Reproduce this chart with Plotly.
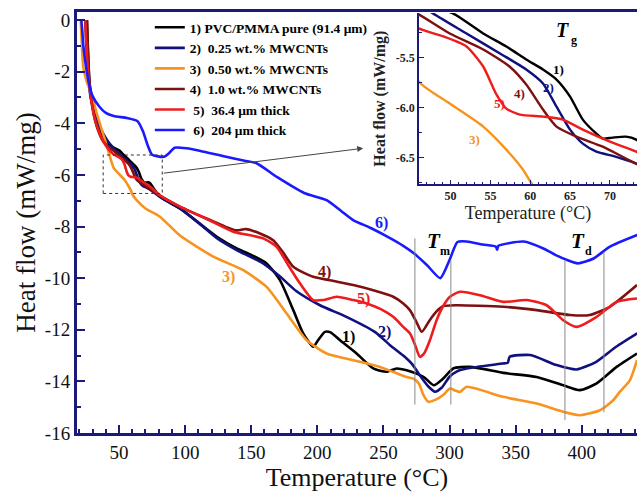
import plotly.graph_objects as go

# ---------------- data ----------------
T1 = [25.7, 26.2, 26.8, 27.5, 29, 31, 33, 36, 40, 45, 50.3, 54.1, 57, 59.5, 61.6, 63.3, 65, 66.6, 68.3, 69.1, 70.3, 72, 73.3,
      81, 96, 110, 124, 139, 150, 161.6, 171.7, 181.8, 189.3, 196.9, 200, 205.7, 210, 217, 229.7, 242.3, 252.4, 260, 267.5,
      275, 281, 288, 295, 302.8, 315.4, 340.6, 365.9, 386, 398.6, 411.3, 426.4, 441.8]
H1 = [0, -0.8, -1.6, -2.3, -3.0, -3.6, -4.0, -4.4, -4.7, -4.92, -5.06, -5.26, -5.39, -5.52, -5.62, -5.72, -5.89, -6.12, -6.26,
      -6.31, -6.30, -6.29, -6.32, -6.85, -7.3, -7.85, -8.4, -8.85, -9.1, -9.43, -10.08, -11.24, -12.14, -12.66, -12.45,
      -12.08, -12.1, -12.4, -12.92, -13.5, -13.63, -13.5, -13.57, -13.7, -13.85, -14.15, -13.9, -13.5, -13.44, -13.67,
      -13.83, -14.15, -14.34, -14.08, -13.44, -12.92]

T2 = [24.5, 25, 25.7, 26.5, 27.5, 28.5, 30.5, 33, 35.6, 38, 43, 47.8, 52, 56.2, 59.5, 61.6, 63.3, 65, 66.6, 68.3, 70.7, 73.3,
      81, 96, 110, 124, 139, 159, 172, 184, 202, 222, 244, 255, 265, 272, 278, 284, 289, 294, 300, 306, 313, 340, 344,
      345.5, 361, 381, 396, 411, 426, 442]
H2 = [0, -0.7, -1.4, -2.0, -2.6, -3.0, -3.4, -3.85, -4.15, -4.4, -4.8, -5.06, -5.26, -5.46, -5.62, -5.76, -5.99, -6.22,
      -6.36, -6.44, -6.49, -6.56, -6.85, -7.3, -7.85, -8.45, -8.91, -9.43, -9.95, -10.5, -11.05, -11.5, -12.1, -12.6,
      -13.0, -13.35, -13.8, -14.2, -14.4, -14.25, -13.82, -13.6, -13.5, -13.31, -13.28, -13.05, -12.98, -13.37, -13.54,
      -13.24, -12.66, -12.14]

T3 = [21, 21.8, 22.9, 24.5, 26, 28, 31, 33, 36, 40.6, 46, 49.9, 54.1, 57, 59.1, 60.3, 63.3, 70, 80.9, 96.1, 121.3, 144,
      161.6, 176.8, 191.9, 207, 227.2, 247.4, 267.5, 273, 277, 280, 284, 290, 295.2, 300.3, 304, 307.9, 313, 340.6,
      365.9, 386, 398.6, 413.8, 423.8, 428.9, 436.5, 441.8]
H3 = [0, -0.9, -1.8, -2.2, -2.45, -2.7, -3.2, -3.6, -4.1, -4.85, -5.74, -5.96, -6.19, -6.42, -6.62, -6.77, -6.98, -7.3,
      -7.62, -8.35, -9.17, -9.69, -10.34, -11.37, -12.4, -12.92, -13.18, -13.44, -13.83, -13.9, -14.1, -14.5, -14.79,
      -14.7, -14.53, -14.28, -14.35, -14.41, -14.21, -14.6, -14.86, -15.18, -15.31, -15.12, -14.73, -14.4, -13.95, -13.18]

T4 = [25.7, 26.2, 26.8, 27.5, 29, 31, 33, 35.5, 38, 42, 46, 49.9, 54.1, 57.4, 59.5, 61.6, 63.3, 65.8, 69.1, 73.3, 81, 96,
      118.8, 130, 139, 146, 156.6, 166.6, 174, 181.8, 196.9, 209.5, 227.2, 242.3, 257.4, 265, 270, 275, 279, 285, 290,
      295, 305, 340.6, 365.9, 391, 406, 421.3, 441.8]
H4 = [0, -0.8, -1.6, -2.3, -3.1, -3.7, -4.1, -4.45, -4.7, -4.92, -5.07, -5.26, -5.42, -5.59, -5.77, -6.02, -6.19, -6.29,
      -6.39, -6.56, -6.8, -7.23, -7.75, -8.0, -8.15, -8.1, -8.27, -8.53, -9.0, -9.56, -9.95, -10.08, -10.27, -10.47,
      -10.72, -10.98, -11.24, -11.7, -12.08, -11.63, -11.3, -11.09, -11.05, -11.11, -11.24, -11.43, -11.43, -11.11, -10.27]

T5 = [24.5, 25, 25.5, 26.2, 27, 28.5, 30, 32, 35, 38, 42, 46, 49.1, 52, 54.1, 55.7, 57, 58.7, 61.6, 64.1, 66.6, 70, 73.3,
      81, 96.1, 118, 136.4, 145, 159.1, 169.2, 178, 186.8, 196.9, 204.5, 214.6, 227.2, 237.3, 248, 257.4, 265, 270, 274,
      277.6, 281, 285.2, 290.2, 295, 300.3, 307.9, 323, 340.6, 358.3, 373.4, 386, 396.1, 411.3, 426.4, 441.8]
H5 = [0, -0.6, -1.1, -1.7, -2.3, -2.9, -3.4, -3.9, -4.35, -4.7, -5.0, -5.21, -5.29, -5.39, -5.59, -5.86, -6.01, -6.07,
      -6.09, -6.12, -6.22, -6.34, -6.44, -6.8, -7.23, -7.75, -8.2, -8.3, -8.46, -8.79, -9.5, -10.2, -10.85, -10.85,
      -10.72, -10.85, -10.98, -11.2, -11.5, -11.89, -12.14, -12.6, -13.05, -12.9, -12.4, -11.63, -11.1, -10.72, -10.53,
      -10.66, -10.92, -10.85, -11.05, -11.63, -11.89, -11.5, -10.92, -10.79]

T6 = [21.5, 22.3, 23, 25, 27, 30, 35, 40, 46, 56, 64, 68, 72, 75, 84, 88, 92, 101, 114, 131, 145, 154, 170, 190, 207, 218,
      227, 240, 255, 265, 273, 283, 293, 300, 306, 313, 325, 335, 336, 337, 356, 371, 380, 389, 397, 409, 421, 442]
H6 = [0, -0.5, -1.0, -1.8, -2.4, -2.95, -3.35, -3.6, -3.72, -3.8, -3.92, -4.3, -4.9, -5.22, -5.3, -5.15, -4.95, -4.97,
      -5.1, -5.3, -5.45, -5.55, -6.1, -6.7, -6.98, -7.4, -7.75, -8.05, -8.45, -8.75, -9.04, -9.5, -10.0, -9.3, -8.6,
      -8.58, -8.7, -8.78, -8.9, -8.75, -8.58, -8.85, -9.1, -9.3, -9.43, -9.24, -8.79, -8.33]

NAMES = ["1) PVC/PMMA pure (91.4 \u03bcm)",
         "2)\u00a0 0.25 wt.% MWCNTs",
         "3)\u00a0 0.50 wt.% MWCNTs",
         "4)\u00a0 1.0 wt.% MWCNTs",
         "\u00a05)\u00a0 36.4 \u03bcm thick",
         "\u00a06)\u00a0 204 \u03bcm thick"]
COLORS = ["#000000", "#10107e", "#f7931e", "#7d1010", "#ee1c1c", "#1a1aff"]
SERIES = [(T1, H1), (T2, H2), (T3, H3), (T4, H4), (T5, H5), (T6, H6)]
INSET_SERIES = [0, 1, 2, 3, 4]

# curve labels (position in data units)
LABELS = [("1)", 223.4, -12.27), ("2)", 251, -12.08), ("3)", 132.6, -9.95),
          ("4)", 205.7, -9.75), ("5)", 234.7, -10.79), ("6)", 248.6, -7.88)]
INSET_LABELS = [("1)", 63.6, -5.62), ("2)", 62.3, -5.80), ("3)", 53.0, -6.32),
                ("4)", 58.7, -5.86), ("5)", 56.2, -5.96)]
# transition markers: (symbol, subscript, x, y, axes)
TRANSITIONS = [("T", "m", 288, -8.55, "x", "y"), ("T", "d", 397, -8.55, "x", "y"), ("T", "g", 64.1, -5.23, "x2", "y2")]
TM_LINES = [(273.8, -8.46, -14.9), (301.0, -9.3, -14.9)]
TD_LINES = [(387.3, -9.3, -15.5), (416.8, -8.98, -15.2)]
ZOOM_BOX = (38.0, 82.7, -6.72, -5.23)

XTICKS = [50, 100, 150, 200, 250, 300, 350, 400]
YTICKS = [0, -2, -4, -6, -8, -10, -12, -14, -16]
IXTICKS = [50, 55, 60, 65, 70]
IYTICKS = [-5.5, -6.0, -6.5]

FONT = "Liberation Serif"
AX = "#1a1a7a"

fig = go.Figure()
for i, (tx, hy) in enumerate(SERIES):
    fig.add_trace(go.Scatter(
        x=tx, y=hy, mode="lines", name=NAMES[i],
        line=dict(color=COLORS[i], width=2.6, shape="spline", smoothing=0.6),
        xaxis="x", yaxis="y", showlegend=True))
for i in INSET_SERIES:
    tx, hy = SERIES[i]
    fig.add_trace(go.Scatter(
        x=tx, y=hy, mode="lines", showlegend=False,
        line=dict(color=COLORS[i], width=2.4, shape="spline", smoothing=0.6),
        xaxis="x2", yaxis="y2"))

shapes = []
for xv, y0, y1 in TM_LINES + TD_LINES:
    shapes.append(dict(type="line", xref="x", yref="y", x0=xv, x1=xv, y0=y0, y1=y1,
                       line=dict(color="#8a8a8a", width=1)))
shapes.append(dict(type="rect", xref="x", yref="y", x0=ZOOM_BOX[0], x1=ZOOM_BOX[1], y0=ZOOM_BOX[2], y1=ZOOM_BOX[3],
                   line=dict(color="#333", width=1, dash="dot")))
# white background behind the inset
shapes.append(dict(type="rect", xref="x2", yref="y2", x0=46.04, x1=73.4, y0=-6.766, y1=-5.05,
                   fillcolor="white", line=dict(width=0), layer="below"))

annotations = []
for txt, xv, yv in LABELS:
    c = COLORS[int(txt[0]) - 1]
    annotations.append(dict(x=xv, y=yv, xref="x", yref="y", text=txt, showarrow=False,
                            font=dict(family=FONT, size=16, color=c, weight="bold")))
for txt, xv, yv in INSET_LABELS:
    c = COLORS[int(txt[0]) - 1]
    annotations.append(dict(x=xv, y=yv, xref="x2", yref="y2", text=txt, showarrow=False,
                            font=dict(family=FONT, size=13, color=c, weight="bold")))
for sym, sub, xv, yv, xr, yr in TRANSITIONS:
    big = 21 if xr == "x" else 20
    annotations.append(dict(x=xv, y=yv, xref=xr, yref=yr, showarrow=False, text=sym,
                            font=dict(family=FONT, size=big, color="black", weight="bold", style="italic")))
    annotations.append(dict(x=xv, y=yv, xref=xr, yref=yr, showarrow=False, text=sub,
                            xshift=11, yshift=-10,
                            font=dict(family=FONT, size=12, color="black", weight="bold")))
annotations.append(dict(x=234.7, y=-4.97, ax=82.7, ay=-5.94, xref="x", yref="y", axref="x", ayref="y",
                        text="", showarrow=True, arrowhead=2, arrowsize=1.2, arrowwidth=1, arrowcolor="#444"))

axis_common = dict(showgrid=False, zeroline=False, linecolor=AX, ticks="inside", tickcolor=AX)

fig.update_layout(
    width=637, height=494,
    margin=dict(l=77, r=0, t=12, b=61),
    paper_bgcolor="white", plot_bgcolor="white",
    font=dict(family=FONT, color="#111"),
    xaxis=dict(domain=[0, 1], range=[18.2, 441.8], tickvals=XTICKS, ticktext=[str(v) for v in XTICKS],
               linewidth=3, ticklen=8, tickwidth=2, mirror=True,
               minor=dict(tickmode="linear", tick0=0, dtick=10, ticks="inside", ticklen=4, tickwidth=2, tickcolor=AX),
               tickfont=dict(family=FONT, size=19, color="#111"),
               title=dict(text="Temperature (\u00b0C)", font=dict(family=FONT, size=26, color="#111"), standoff=6),
               **axis_common),
    yaxis=dict(domain=[0, 1], range=[-16, 0.31], tickvals=YTICKS, ticktext=[str(v) for v in YTICKS],
               linewidth=3, ticklen=8, tickwidth=2,
               minor=dict(tickmode="linear", tick0=0, dtick=1, ticks="inside", ticklen=4, tickwidth=2, tickcolor=AX),
               tickfont=dict(family=FONT, size=19, color="#111"),
               title=dict(text="Heat flow (mW/mg)", font=dict(family=FONT, size=27, color="#111"), standoff=2),
               **axis_common),
    xaxis2=dict(domain=[0.6107, 1], anchor="y2", range=[46.04, 73.4], tickvals=IXTICKS,
                ticktext=[str(v) for v in IXTICKS], linewidth=1.5, ticklen=5, tickwidth=1.2,
                minor=dict(tickmode="linear", tick0=0, dtick=1, ticks="inside", ticklen=3, tickwidth=1, tickcolor=AX),
                tickfont=dict(family=FONT, size=12, color="#222", weight="bold"),
                title=dict(text="Temperature (\u00b0C)", font=dict(family=FONT, size=18, color="#222"), standoff=4),
                **axis_common),
    yaxis2=dict(domain=[0.5907, 0.9976], anchor="x2", range=[-6.766, -5.056], tickvals=IYTICKS,
                ticktext=["%.1f" % v for v in IYTICKS], linewidth=1.5, ticklen=5, tickwidth=1.2,
                minor=dict(tickmode="linear", tick0=0, dtick=0.25, ticks="inside", ticklen=3, tickwidth=1, tickcolor=AX),
                tickfont=dict(family=FONT, size=12, color="#222", weight="bold"),
                title=dict(text="Heat flow (mW/mg)", font=dict(family=FONT, size=16, color="#222", weight="bold"),
                           standoff=6),
                **axis_common),
    legend=dict(x=0.13, y=1.0, xanchor="left", yanchor="top", bgcolor="rgba(0,0,0,0)",
                font=dict(family=FONT, size=13.5, color="black", weight="bold"), tracegroupgap=0),
    shapes=shapes, annotations=annotations,
)

fig.write_html("out.html")
